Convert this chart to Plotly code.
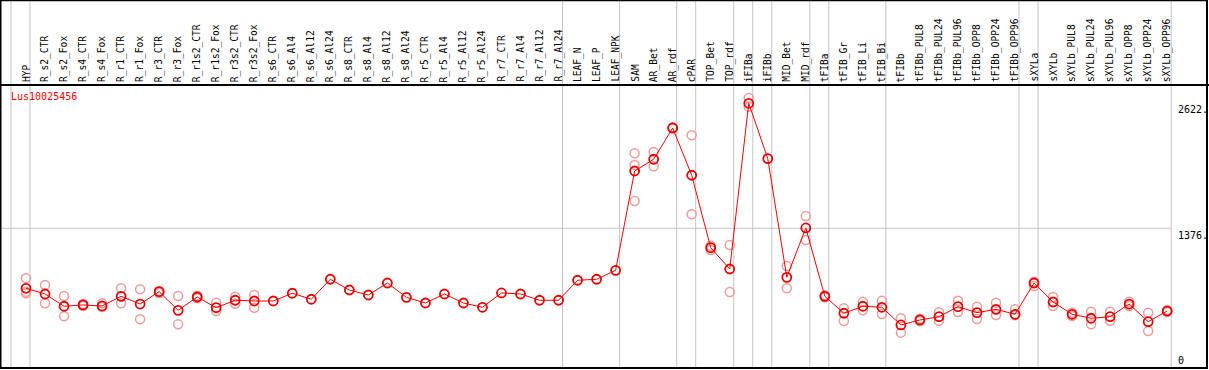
import plotly.graph_objects as go

samples = ["HYP", "R_s2_CTR", "R_s2_Fox", "R_s4_CTR", "R_s4_Fox", "R_r1_CTR", "R_r1_Fox",
           "R_r3_CTR", "R_r3_Fox", "R_r1s2_CTR", "R_r1s2_Fox", "R_r3s2_CTR", "R_r3s2_Fox",
           "R_s6_CTR", "R_s6_Al4", "R_s6_Al12", "R_s6_Al24", "R_s8_CTR", "R_s8_Al4", "R_s8_Al12",
           "R_s8_Al24", "R_r5_CTR", "R_r5_Al4", "R_r5_Al12", "R_r5_Al24", "R_r7_CTR", "R_r7_Al4",
           "R_r7_Al12", "R_r7_Al24", "LEAF_N", "LEAF_P", "LEAF_NPK", "SAM", "AR_Bet", "AR_rdf",
           "cPAR", "TOP_Bet", "TOP_rdf", "iFIBa", "iFIBb", "MID_Bet", "MID_rdf", "tFIBa",
           "tFIB_Gr", "tFIB_Li", "tFIB_Bi", "tFIBb", "tFIBb_PUL8", "tFIBb_PUL24", "tFIBb_PUL96",
           "tFIBb_OPP8", "tFIBb_OPP24", "tFIBb_OPP96", "sXYLa", "sXYLb", "sXYLb_PUL8",
           "sXYLb_PUL24", "sXYLb_PUL96", "sXYLb_OPP8", "sXYLb_OPP24", "sXYLb_OPP96"]

mean_values = [785, 729, 608, 621, 611, 706, 630, 752, 568, 699, 594, 667, 660,
               660, 736, 677, 874, 768, 719, 837, 696, 640, 729, 640, 598, 739, 729,
               667, 667, 864, 874, 962, 1940, 2056, 2364, 1898, 1185, 975, 2607, 2062,
               893, 1379, 706, 539, 608, 598, 424, 473, 505, 604, 545, 578, 529, 837,
               650, 529, 490, 505, 630, 456, 561]

rep_a = [884, 818, 709, 630, 637, 785, 775, 758, 709, 712, 643, 702, 719,
         None, None, None, None, None, None, None, None, None, None, None, None, None, None,
         None, None, None, None, None, 2115, 2128, 2370, 2292, 1205, 1212, 2660, None,
         1005, 1497, 716, 588, 653, 663, 490, 486, 549, 663, 604, 643, 578, 850,
         699, 545, 555, 555, 653, 545, 570]

rep_b = [752, 637, 509, 611, 601, 637, 480, 739, 430, 686, 561, 633, 594,
         None, None, None, None, None, None, None, None, None, None, None, None, None, None,
         None, None, None, None, None, 2000, 1987, 2358, 1514, 1162, 749, 2574, None,
         785, 1261, 696, 463, 568, 532, 348, 460, 466, 552, 483, 522, 519, 808,
         611, 512, 430, 466, 611, 364, 552]

rep_c = [736] + [None] * 31 + [1645] + [None] * 28

# sample groups end after these indices (vertical separators)
group_ends = [-1, 0, 28, 31, 34, 35, 37, 38, 39, 41, 42, 45, 52, 53, 60]

y_ticks = [0, 1376, 2622]
y_tick_text = ["0", "1376.", "2622."]
gene = "Lus10025456"

W, H = 1209, 370
L, R, T, B = 1, 2, 85, 2
x_range = [-1.3144, 62.093]
y_range = [0, 2787]
mono = "DejaVu Sans Mono"

xs = list(range(len(samples)))

fig = go.Figure()

rep_x, rep_y = [], []
for reps in (rep_a, rep_b, rep_c):
    for i, v in enumerate(reps):
        if v is not None:
            rep_x.append(i)
            rep_y.append(v)

fig.add_trace(go.Scatter(
    x=rep_x, y=rep_y, mode="markers",
    marker=dict(symbol="circle-open", size=9, color="#f09a9a", line=dict(width=1.5, color="#f09a9a")),
    hoverinfo="skip", showlegend=False))

fig.add_trace(go.Scatter(
    x=xs, y=mean_values, mode="lines+markers",
    line=dict(color="#ff0000", width=1),
    marker=dict(symbol="circle-open", size=9, color="#e80000", line=dict(width=1.8, color="#e80000")),
    text=samples, showlegend=False))

shapes = []
top_paper = (H - B) / (H - T - B) + 0.01
for g in group_ends:
    shapes.append(dict(type="line", xref="x", yref="paper", x0=g + 0.21, x1=g + 0.21,
                       y0=0, y1=top_paper, line=dict(color="#c4c4c4", width=1), layer="below"))
shapes.append(dict(type="line", xref="paper", yref="y", x0=0, x1=(60.21 - x_range[0]) / (x_range[1] - x_range[0]),
                   y0=1376, y1=1376, line=dict(color="#c4c4c4", width=1), layer="below"))
# frames
shapes.append(dict(type="line", xref="paper", yref="paper", x0=-0.01, x1=1.01, y0=1, y1=1,
                   line=dict(color="black", width=2)))
shapes.append(dict(type="rect", xref="paper", yref="paper", x0=-0.0004, x1=1.0, y0=0, y1=top_paper - 0.011,
                   line=dict(color="black", width=2)))
fig.update_layout(shapes=shapes)

annotations = []
for i, s in enumerate(samples):
    annotations.append(dict(x=i, y=1, xref="x", yref="paper", text=s, textangle=-90,
                            showarrow=False, xanchor="center", yanchor="bottom", yshift=1,
                            font=dict(family=mono, size=9.6, color="black")))
annotations.append(dict(x=(9 - L) / (W - L - R), y=1 - (97 - T) / (H - T - B), xref="paper", yref="paper",
                        text=gene, showarrow=False, xanchor="left", yanchor="middle",
                        font=dict(family=mono, size=10, color="#ff0000")))
for v, t in zip(y_ticks, y_tick_text):
    annotations.append(dict(x=(1176 - L) / (W - L - R), y=v, xref="paper", yref="y", text=t,
                            showarrow=False, xanchor="left",
                            yanchor="bottom" if v == 0 else "top",
                            font=dict(family=mono, size=10, color="black")))
fig.update_layout(annotations=annotations)

fig.update_layout(
    width=W, height=H,
    margin=dict(l=L, r=R, t=T, b=B, pad=0),
    paper_bgcolor="white", plot_bgcolor="white",
    xaxis=dict(range=x_range, showgrid=False, zeroline=False, showticklabels=False, ticks="", fixedrange=True),
    yaxis=dict(range=y_range, showgrid=False, zeroline=False, showticklabels=False, ticks="", fixedrange=True),
    showlegend=False,
)

fig.write_html("out.html", config={"displayModeBar": False},
               post_script="document.body.style.margin='0px';document.body.style.overflow='hidden';")
